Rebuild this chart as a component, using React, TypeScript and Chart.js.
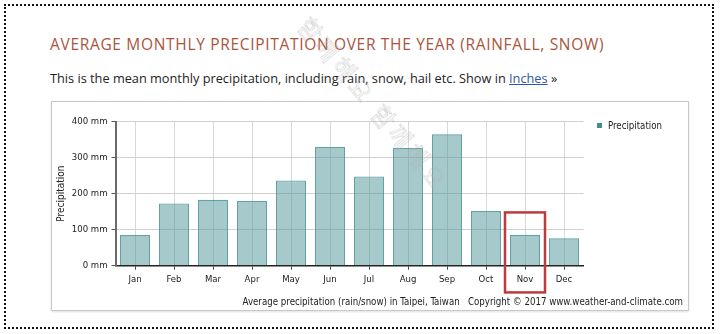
import React, { useEffect, useRef } from "react";
import { Chart, registerables } from "chart.js";

Chart.register(...registerables);

const months = ["Jan", "Feb", "Mar", "Apr", "May", "Jun", "Jul", "Aug", "Sep", "Oct", "Nov", "Dec"];
const precipitationMm = [85, 173, 183, 180, 237, 330, 248, 327, 365, 152, 86, 76];
const yTicks = [0, 100, 200, 300, 400];
const seriesLabel = "Precipitation";
const highlightIndex = 10;
const footerText = "Average precipitation (rain/snow) in Taipei, Taiwan   Copyright © 2017 www.weather-and-climate.com";
const pageTitle = "AVERAGE MONTHLY PRECIPITATION OVER THE YEAR (RAINFALL, SNOW)";
const introText = "This is the mean monthly precipitation, including rain, snow, hail etc. Show in ";
const watermarkText = "함께해요 함께해요";

const AXIS_FONT = "'DejaVu Sans Condensed', 'DejaVu Sans', sans-serif";

export default function App() {
  const canvasRef = useRef<HTMLCanvasElement | null>(null);

  useEffect(() => {
    if (!canvasRef.current) return;
    const extras = {
      id: "extras",
      afterDraw(chart: any) {
        const ctx = chart.ctx;
        const xs = chart.scales.x;
        const ys = chart.scales.y;
        ctx.save();
        // legend
        ctx.fillStyle = "#3f8e8f";
        ctx.fillRect(545, 21, 5, 5);
        ctx.fillStyle = "#222";
        ctx.font = `9.6px ${AXIS_FONT}`;
        ctx.textBaseline = "middle";
        ctx.textAlign = "left";
        ctx.fillText(chart.data.datasets[0].label, 556, 24);
        // footer
        ctx.font = `9.65px ${AXIS_FONT}`;
        ctx.textAlign = "right";
        ctx.fillText(footerText, 631, 200.5);
        // highlight box
        const cx = xs.getPixelForValue(highlightIndex);
        const top = ys.getPixelForValue(148);
        ctx.strokeStyle = "#bd3a3d";
        ctx.lineWidth = 2.5;
        ctx.strokeRect(cx - 20, top, 40, 80);
        ctx.restore();
      },
    };
    const chart = new Chart(canvasRef.current, {
      type: "bar",
      data: {
        labels: months,
        datasets: [
          {
            label: seriesLabel,
            data: precipitationMm,
            backgroundColor: "rgba(77,147,151,0.5)",
            borderColor: "rgba(70,145,148,0.85)",
            borderWidth: 1.2,
            barPercentage: 0.77,
            categoryPercentage: 1,
          },
        ],
      },
      options: {
        animation: false,
        responsive: false,
        layout: { padding: { left: 3, right: 106.5, top: 19.7, bottom: 0 } },
        plugins: {
          legend: { display: false },
          tooltip: { enabled: false },
        },
        scales: {
          x: {
            grid: {
              offset: false,
              color: "#d8d8d8",
              tickColor: "#444",
              tickLength: 4,
              lineWidth: 1,
            },
            border: { display: true, color: "#222", width: 1.5 },
            ticks: {
              color: "#222",
              font: { size: 9.5, family: AXIS_FONT },
              padding: 4,
              maxRotation: 0,
            },
            afterFit(scale: any) {
              scale.height = 46.3;
            },
          },
          y: {
            min: 0,
            max: 400,
            afterBuildTicks(scale: any) {
              scale.ticks = yTicks.map((v) => ({ value: v }));
            },
            grid: {
              color: "#d0d0d0",
              tickColor: "#555",
              tickLength: 4,
            },
            border: { display: true, color: "#6a6a6a", width: 2 },
            ticks: {
              color: "#222",
              font: { size: 9.5, family: AXIS_FONT },
              padding: 4,
              callback: (v: any) => `${v} mm`,
            },
            title: {
              display: true,
              text: seriesLabel,
              color: "#222",
              font: { size: 10, family: AXIS_FONT },
              padding: { top: 0, bottom: 0 },
            },
            afterFit(scale: any) {
              scale.width = 60.5;
            },
          },
        },
      },
      plugins: [extras],
    });
    return () => chart.destroy();
  }, []);

  return (
    <div
      style={{
        position: "fixed",
        left: 0,
        top: 0,
        width: 720,
        height: 334,
        background: "#fff",
        overflow: "hidden",
        fontFamily: "'Open Sans', sans-serif",
      }}
    >
      <div
        style={{
          position: "absolute",
          left: 4,
          top: 4,
          width: 706,
          height: 321,
          border: "2px dotted #111",
        }}
      />
      <div
        style={{
          position: "absolute",
          left: 50,
          top: 34,
          fontSize: 15.5,
          lineHeight: "20px",
          color: "#aa553c",
          letterSpacing: 0.68,
          whiteSpace: "nowrap",
        }}
      >
        {pageTitle}
      </div>
      <div
        style={{
          position: "absolute",
          left: 50,
          top: 68,
          fontSize: 12.75,
          lineHeight: "20px",
          color: "#222",
          whiteSpace: "nowrap",
        }}
      >
        {introText}
        <span style={{ color: "#2a5a9e", textDecoration: "underline" }}>Inches</span> »
      </div>
      <div
        style={{
          position: "absolute",
          left: 51,
          top: 101,
          width: 638,
          height: 210,
          border: "1px solid #c8c8c8",
          boxShadow: "0 1px 2px rgba(0,0,0,0.12)",
          boxSizing: "border-box",
        }}
      />
      <canvas
        ref={canvasRef}
        width={638}
        height={210}
        style={{ position: "absolute", left: 52, top: 102, width: 638, height: 210 }}
      />
      <div
        style={{
          position: "absolute",
          left: 314,
          top: 12,
          transform: "rotate(50deg)",
          transformOrigin: "0 0",
          fontFamily: "'Noto Sans CJK KR', sans-serif",
          fontSize: 24,
          lineHeight: "26px",
          color: "transparent",
          WebkitTextStroke: "0.35px #b0b0b0",
          whiteSpace: "nowrap",
          letterSpacing: 4,
          pointerEvents: "none",
        }}
      >
        {watermarkText}
      </div>
    </div>
  );
}
